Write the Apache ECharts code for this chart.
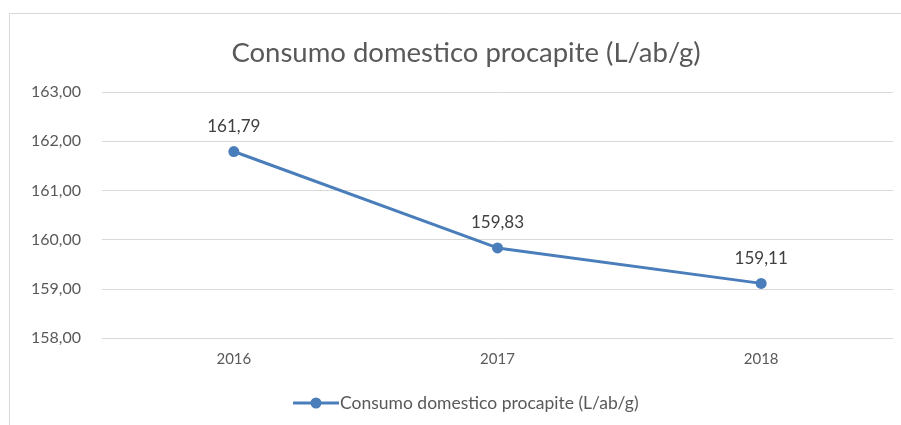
<!DOCTYPE html>
<html><head><meta charset="utf-8">
<script src="https://cdn.jsdelivr.net/npm/echarts@6/dist/echarts.min.js"></script>
<style>html,body{margin:0;padding:0;background:#fff}#c{width:901px;height:425px}</style>
</head><body><div id="c"></div>
<script>
const categories = ['2016', '2017', '2018'];
const values = [161.79, 159.83, 159.11];
const seriesName = 'Consumo domestico procapite (L/ab/g)';
const titleText = 'Consumo domestico procapite (L/ab/g)';
const fmt = v => v.toFixed(2).replace('.', ',');
const chart = echarts.init(document.getElementById('c'));
chart.setOption({
  animation: false,
  graphic: [{type: 'rect', shape: {x: 9.5, y: 13.5, width: 1000, height: 500}, style: {fill: 'none', stroke: '#d9d9d9', lineWidth: 1}, z: -1}],
  title: {text: titleText, left: 461, top: 34, textAlign: 'center',
    textStyle: {fontFamily: 'Lato', fontWeight: 'normal', fontSize: 27.5, color: '#595959'}},
  legend: {bottom: 8, left: 288, itemWidth: 46, itemHeight: 11, itemGap: 4,
    textStyle: {fontFamily: 'Lato', fontSize: 17.5, color: '#595959', padding: [0, 0, 0, -4]},
    data: [{name: seriesName, icon: 'path://M0,4 L46,4 L46,7 L0,7 Z M23,0 A5.5,5.5 0 1 1 23,11 A5.5,5.5 0 1 1 23,0 Z',
      itemStyle: {color: '#4a7ebb'}}]},
  grid: {left: 102, right: 8, top: 92, bottom: 87},
  xAxis: {type: 'category', data: categories,
    axisLine: {lineStyle: {color: '#d9d9d9'}}, axisTick: {show: false},
    axisLabel: {fontFamily: 'Lato', fontSize: 15, color: '#595959', margin: 14}},
  yAxis: {type: 'value', min: 158, max: 163, interval: 1,
    axisLabel: {formatter: v => fmt(v), fontFamily: 'Lato', fontSize: 16, color: '#595959', margin: 21},
    splitLine: {lineStyle: {color: '#d9d9d9'}}, axisLine: {show: false}, axisTick: {show: false}},
  series: [{name: seriesName, type: 'line', data: values, symbol: 'circle', symbolSize: 11,
    lineStyle: {color: '#4a7ebb', width: 3}, itemStyle: {color: '#4a7ebb'},
    label: {show: true, position: 'top', distance: 11, formatter: p => fmt(p.value),
      fontFamily: 'Lato', fontSize: 17, color: '#404040'}}]
});
</script></body></html>
